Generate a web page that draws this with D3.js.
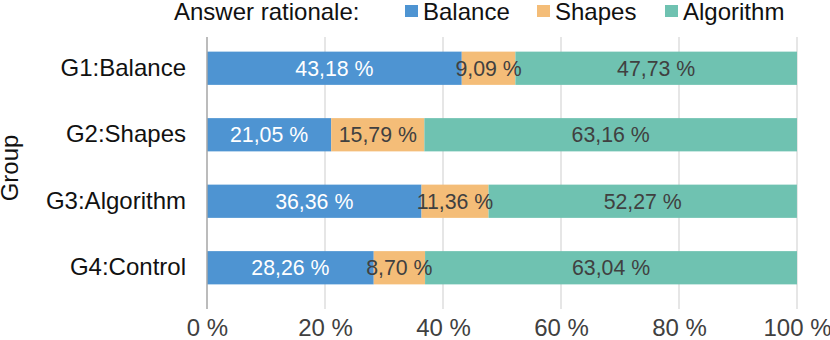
<!DOCTYPE html>
<html>
<head>
<meta charset="utf-8">
<script src="https://cdn.jsdelivr.net/npm/d3@7"></script>
<style>
  body { margin: 0; background: #fff; }
  svg { font-family: "Liberation Sans", Arial, sans-serif; }
</style>
</head>
<body>
<svg id="chart" width="830" height="340"></svg>
<script>
const groups = ['G1:Balance', 'G2:Shapes', 'G3:Algorithm', 'G4:Control'];
const seriesNames = ['Balance', 'Shapes', 'Algorithm'];
const balance = [43.18, 21.05, 36.36, 28.26];
const shapes = [9.09, 15.79, 11.36, 8.70];
const algorithm = [47.73, 63.16, 52.27, 63.04];
const xTicks = [0, 20, 40, 60, 80, 100];

const colors = { Balance: '#4e94d2', Shapes: '#f4bd78', Algorithm: '#6fc2b1' };
const textColors = { Balance: '#ffffff', Shapes: '#404040', Algorithm: '#404040' };

const rows = groups.map((g, i) => ({ group: g, Balance: balance[i], Shapes: shapes[i], Algorithm: algorithm[i] }));

const svg = d3.select('#chart');
const margin = { top: 35, right: 33, bottom: 39, left: 207 };
const width = 830 - margin.left - margin.right;
const height = 340 - margin.top - margin.bottom;

const x = d3.scaleLinear().domain([0, 100]).range([0, width]);
const y = d3.scaleBand().domain(groups).range([0, height]).paddingInner(0.5).paddingOuter(0.25);

const g = svg.append('g').attr('transform', `translate(${margin.left},${margin.top})`);

// gridlines (extend below the plot as tick marks)
g.selectAll('.grid')
  .data(xTicks.slice(1))
  .join('line')
  .attr('x1', d => x(d)).attr('x2', d => x(d))
  .attr('y1', 2).attr('y2', height + 8)
  .attr('stroke', '#d9d9d9').attr('stroke-width', 1.3);

// stacked bars
const stacked = d3.stack().keys(seriesNames)(rows);

const layer = g.selectAll('.layer')
  .data(stacked)
  .join('g')
  .attr('class', 'layer')
  .attr('fill', d => colors[d.key]);

layer.selectAll('rect')
  .data(d => d)
  .join('rect')
  .attr('x', d => x(d[0]))
  .attr('y', d => y(d.data.group))
  .attr('width', d => x(d[1]) - x(d[0]))
  .attr('height', y.bandwidth());

// segment labels
stacked.forEach(s => {
  g.selectAll('.lbl-' + s.key)
    .data(s)
    .join('text')
    .attr('x', d => (x(d[0]) + x(d[1])) / 2)
    .attr('y', d => y(d.data.group) + y.bandwidth() / 2)
    .attr('dy', '0.36em')
    .attr('text-anchor', 'middle')
    .attr('font-size', 21.3)
    .attr('fill', textColors[s.key])
    .text(d => (d[1] - d[0]).toFixed(2).replace('.', ',') + ' %');
});

// left axis line
g.append('line')
  .attr('x1', 0).attr('x2', 0)
  .attr('y1', 2).attr('y2', height + 8)
  .attr('stroke', '#a6a6a6').attr('stroke-width', 1.5);

// x axis labels
const xAxis = d3.axisBottom(x).tickValues(xTicks).tickSize(0).tickPadding(18)
  .tickFormat(d => d + ' %');
g.append('g')
  .attr('transform', `translate(0,${height})`)
  .call(xAxis)
  .call(a => a.select('.domain').remove())
  .selectAll('text')
  .attr('font-size', 24)
  .attr('fill', '#404040')
  .attr('font-family', '"Liberation Sans", Arial, sans-serif');

// y axis labels
const yAxis = d3.axisLeft(y).tickSize(0).tickPadding(21);
g.append('g')
  .call(yAxis)
  .call(a => a.select('.domain').remove())
  .selectAll('text')
  .attr('font-size', 24)
  .attr('fill', '#111')
  .attr('font-family', '"Liberation Sans", Arial, sans-serif');

// y axis title
svg.append('text')
  .attr('transform', `translate(18,${margin.top + height / 2}) rotate(-90)`)
  .attr('text-anchor', 'middle')
  .attr('font-size', 24)
  .attr('fill', '#111')
  .text('Group');

// legend
const legend = svg.append('g').attr('transform', 'translate(0,11)');
legend.append('text')
  .attr('x', 174).attr('dy', '0.36em')
  .attr('font-size', 24).attr('fill', '#111')
  .text('Answer rationale:');
const legendX = [405, 537, 665];
seriesNames.forEach((name, i) => {
  legend.append('rect')
    .attr('x', legendX[i]).attr('y', -6)
    .attr('width', 13).attr('height', 12)
    .attr('fill', colors[name]);
  legend.append('text')
    .attr('x', legendX[i] + 18).attr('dy', '0.36em')
    .attr('font-size', 24).attr('fill', '#111')
    .text(name);
});
</script>
</body>
</html>
